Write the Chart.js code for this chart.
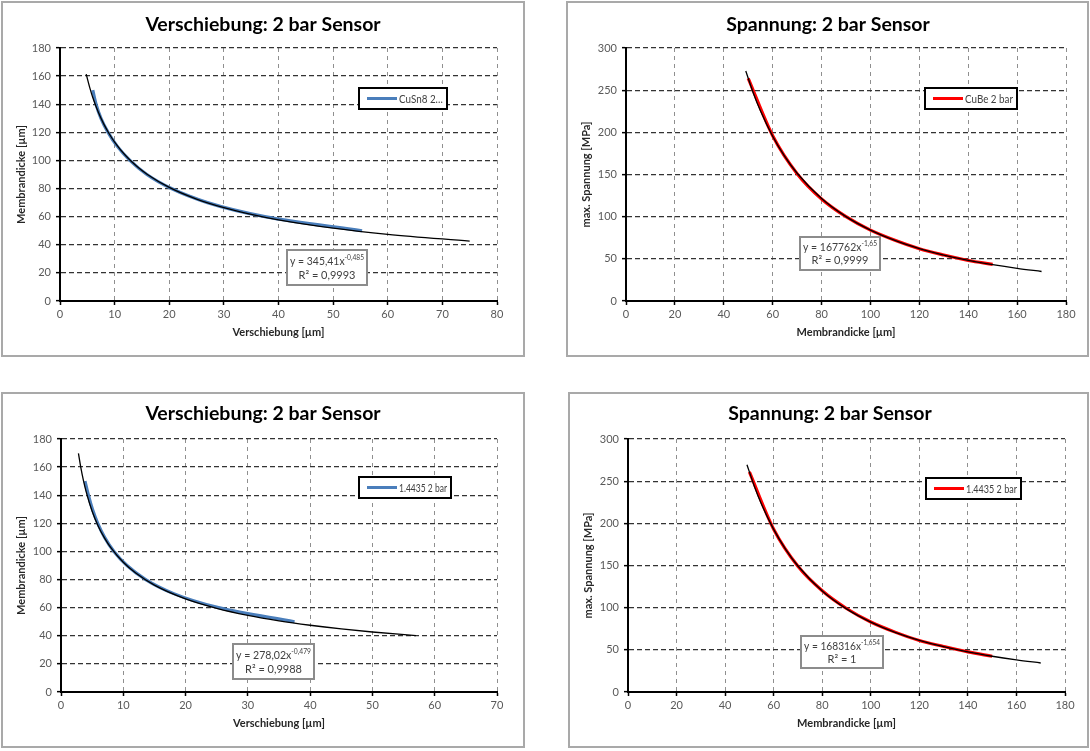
<!DOCTYPE html>
<html>
<head>
<meta charset="utf-8">
<script src="https://cdn.jsdelivr.net/npm/chart.js@4.4.1/dist/chart.umd.min.js"></script>
<style>
  html, body { margin: 0; padding: 0; background: #fff; width: 1090px; height: 751px; overflow: hidden; }
  .panel { position: absolute; box-sizing: border-box; border: 2px solid #a9a9a9; background: #fff; }
  .panel canvas { position: absolute; left: 0; top: 0; }
</style>
</head>
<body>
<div class="panel" style="left:1px;top:1px;width:524px;height:356px"><canvas id="c1" width="520" height="352"></canvas></div>
<div class="panel" style="left:566px;top:1px;width:523px;height:356px"><canvas id="c2" width="519" height="352"></canvas></div>
<div class="panel" style="left:1px;top:392px;width:524px;height:356px"><canvas id="c3" width="520" height="352"></canvas></div>
<div class="panel" style="left:568px;top:392px;width:521px;height:356px"><canvas id="c4" width="517" height="352"></canvas></div>
<script>
// ---- CuSn8, 2 bar: Membrandicke over Verschiebung ----
const cusnDisp   = [6.0, 6.6, 7.5, 8.8, 10.5, 12.8, 15.9, 20.4, 27.0, 37.5, 55.3];
const cusnThick  = [150, 140, 130, 120, 110, 100, 90, 80, 70, 60, 50];
const cusnFitX   = [4.8, 5.5, 6, 7, 8, 9, 10, 12, 14, 16, 20, 25, 30, 35, 40, 50, 60, 75];
const cusnFitY   = [161.4, 151.1, 144.8, 134.4, 126.0, 119.0, 113.1, 103.5, 96.0, 90.0, 80.8, 72.5, 66.4, 61.6, 57.7, 51.8, 47.4, 42.6];

// ---- CuBe, 2 bar: max. Spannung over Membrandicke ----
const cubeThick  = [50, 60, 70, 80, 90, 100, 110, 120, 130, 140, 150];
const cubeStress = [264, 196, 151, 121, 100, 84, 72, 62, 54.5, 48, 43.5];
const cubeFitX   = [49, 52, 55, 60, 65, 70, 80, 90, 100, 110, 120, 130, 140, 150, 160, 170];
const cubeFitY   = [272.8, 247.3, 225.5, 195.4, 171.2, 151.5, 121.5, 100.0, 84.1, 71.8, 62.2, 54.5, 48.3, 43.1, 38.7, 35.0];

// ---- 1.4435, 2 bar: Membrandicke over Verschiebung ----
const steelDisp  = [3.85, 4.4, 5.05, 5.9, 7.0, 8.5, 10.6, 13.6, 18.1, 25.3, 37.5];
const steelThick = [150, 140, 130, 120, 110, 100, 90, 80, 70, 60, 50];
const steelFitX  = [2.8, 3.2, 3.6, 4, 5, 6, 7, 8, 10, 12, 15, 20, 25, 30, 35, 40, 45, 50, 57];
const steelFitY  = [169.8, 159.3, 150.5, 143.1, 128.6, 117.8, 109.5, 102.7, 92.3, 84.6, 76.0, 66.2, 59.5, 54.5, 50.6, 47.5, 44.9, 42.7, 40.1];

// ---- 1.4435, 2 bar: max. Spannung over Membrandicke ----
const steelThick2  = [50, 60, 70, 80, 90, 100, 110, 120, 130, 140, 150];
const steelStress  = [261, 193, 149, 120, 99, 83, 71, 61, 54, 47.5, 42.4];
const steelFit2X   = [49, 52, 55, 60, 65, 70, 80, 90, 100, 110, 120, 130, 140, 150, 160, 170];
const steelFit2Y   = [269.5, 244.3, 222.6, 192.8, 168.9, 149.4, 119.8, 98.6, 82.9, 70.7, 61.3, 53.7, 47.5, 42.4, 38.1, 34.4];

// axis tick settings
const dispTicksA  = { min: 0, max: 80,  step: 10 };
const dispTicksB  = { min: 0, max: 70,  step: 10 };
const thickTicks  = { min: 0, max: 180, step: 20 };
const stressTicks = { min: 0, max: 300, step: 50 };

const FONT = 'Lato, "Open Sans", sans-serif';

function pts(xs, ys) { return xs.map((x, i) => ({ x: x, y: ys[i] })); }

// draw text squeezed horizontally so that it never exceeds maxW
function fitText(ctx, txt, x, y, maxW, align) {
  const w = ctx.measureText(txt).width;
  const k = Math.min(1, maxW / w);
  ctx.save();
  ctx.translate(x, y);
  ctx.scale(k, 1);
  ctx.textAlign = align;
  ctx.fillText(txt, 0, 0);
  ctx.restore();
  return w * k;
}

// titles, legend box and trendline label drawn on top of the plot
const decor = {
  id: 'decor',
  afterDatasetsDraw(chart, args, o) {
    const ctx = chart.ctx;
    ctx.save();
    ctx.textBaseline = 'middle';

    ctx.font = 'bold 19.5px ' + FONT;
    ctx.fillStyle = '#000';
    ctx.textAlign = 'center';
    ctx.fillText(o.title, o.titleX, o.titleY);

    const L = o.legend;
    ctx.fillStyle = '#fff';
    ctx.fillRect(L.x, L.y, L.w, L.h);
    ctx.lineWidth = 2;
    ctx.strokeStyle = '#000';
    ctx.strokeRect(L.x, L.y, L.w, L.h);
    ctx.strokeStyle = L.color;
    ctx.lineWidth = 3;
    ctx.beginPath();
    ctx.moveTo(L.x + 8, L.y + L.h / 2);
    ctx.lineTo(L.x + 38, L.y + L.h / 2);
    ctx.stroke();
    ctx.font = '11px ' + FONT;
    ctx.fillStyle = '#404040';
    fitText(ctx, L.label, L.x + 40, L.y + L.h / 2 + 0.5, L.w - 44, 'left');

    const E = o.eq;
    ctx.fillStyle = '#fff';
    ctx.fillRect(E.x, E.y, E.w, E.h);
    ctx.lineWidth = 2;
    ctx.strokeStyle = '#8c8c8c';
    ctx.strokeRect(E.x, E.y, E.w, E.h);
    const cx = E.x + E.w / 2;
    const base = 'y = ' + E.coef + 'x';
    ctx.font = '11px ' + FONT;
    const wBase = ctx.measureText(base).width;
    ctx.font = '7px ' + FONT;
    const wExp = ctx.measureText(E.exp).width;
    const k = Math.min(1, (E.w - 6) / (wBase + wExp));
    const l1 = E.y + E.h * 0.33;
    const l2 = E.y + E.h * 0.72;
    ctx.fillStyle = '#404040';
    ctx.save();
    ctx.translate(cx - (wBase + wExp) * k / 2, l1);
    ctx.scale(k, 1);
    ctx.textAlign = 'left';
    ctx.font = '11px ' + FONT;
    ctx.fillText(base, 0, 0);
    ctx.font = '7px ' + FONT;
    ctx.fillText(E.exp, wBase, -4);
    ctx.restore();
    ctx.font = '11px ' + FONT;
    fitText(ctx, 'R² = ' + E.r2, cx, l2, E.w - 6, 'center');
    ctx.restore();
  }
};

function makeChart(id, cfg) {
  const c = document.getElementById(id);
  const W = c.width, H = c.height;
  const a = cfg.area; // chart area inside the canvas: left, top, right, bottom
  const tickStyle = { tickColor: '#000', tickBorderDash: [], tickWidth: 1.5, tickLength: 4 };
  return new Chart(c, {
    type: 'scatter',
    data: {
      datasets: [
        {
          label: 'Trend',
          data: cfg.fit,
          showLine: true,
          borderColor: '#000',
          borderWidth: 1.3,
          pointRadius: 0,
          cubicInterpolationMode: 'monotone',
          order: 0
        },
        {
          label: cfg.legend.label,
          data: cfg.series,
          showLine: true,
          borderColor: cfg.legend.color,
          borderWidth: 3.2,
          pointRadius: 0,
          cubicInterpolationMode: 'monotone',
          order: 1
        }
      ]
    },
    options: {
      responsive: false,
      animation: false,
      events: [],
      layout: { padding: { left: 0, bottom: 0, top: a[1], right: W - a[2] } },
      plugins: {
        legend: { display: false },
        tooltip: { enabled: false },
        decor: { title: cfg.title, titleX: cfg.titleX, titleY: cfg.titleY, legend: cfg.legend, eq: cfg.eq }
      },
      scales: {
        x: {
          type: 'linear',
          min: cfg.xt.min, max: cfg.xt.max,
          ticks: { stepSize: cfg.xt.step, color: '#595959', font: { family: FONT, size: 11 }, padding: 3, maxRotation: 0 },
          grid: Object.assign({ color: '#8f8f8f', lineWidth: 1 }, tickStyle),
          border: { color: '#000', width: 2, dash: [4, 4] },
          title: { display: true, text: cfg.xTitle, color: '#262626', font: { family: FONT, size: 11, weight: 'bold' }, padding: { top: 0, bottom: cfg.xTitlePad } },
          afterFit(s) { s.height = H - a[3]; }
        },
        y: {
          type: 'linear',
          min: cfg.yt.min, max: cfg.yt.max,
          ticks: { stepSize: cfg.yt.step, color: '#595959', font: { family: FONT, size: 11 }, padding: 5 },
          grid: Object.assign({ color: '#333', lineWidth: 1.3 }, tickStyle),
          border: { color: '#000', width: 2, dash: [5, 3] },
          title: { display: true, text: cfg.yTitle, color: '#262626', font: { family: FONT, size: 11, weight: 'bold' }, padding: { top: cfg.yTitlePad, bottom: 0 } },
          afterFit(s) { s.width = a[0]; }
        }
      }
    },
    plugins: [decor]
  });
}

makeChart('c1', {
  area: [57, 45, 494, 298],
  title: 'Verschiebung: 2 bar Sensor', titleX: 260, titleY: 22,
  xTitle: 'Verschiebung [µm]', yTitle: 'Membrandicke [µm]', xTitlePad: 16, yTitlePad: 12,
  xt: dispTicksA, yt: thickTicks,
  series: pts(cusnDisp, cusnThick), fit: pts(cusnFitX, cusnFitY),
  legend: { label: 'CuSn8 2…', color: '#4a7ebb', x: 356, y: 85, w: 88, h: 21 },
  eq: { coef: '345,41', exp: '-0,485', r2: '0,9993', x: 284, y: 247, w: 80, h: 35 }
});

makeChart('c2', {
  area: [58, 45, 498, 298],
  title: 'Spannung: 2 bar Sensor', titleX: 260, titleY: 22,
  xTitle: 'Membrandicke [µm]', yTitle: 'max. Spannung [MPa]', xTitlePad: 16, yTitlePad: 12,
  xt: thickTicks, yt: stressTicks,
  series: pts(cubeThick, cubeStress), fit: pts(cubeFitX, cubeFitY),
  legend: { label: 'CuBe 2 bar', color: '#ff0000', x: 357, y: 85, w: 92, h: 21 },
  eq: { coef: '167762', exp: '-1,65', r2: '0,9999', x: 232, y: 234, w: 80, h: 33 }
});

makeChart('c3', {
  area: [58, 45, 494, 298],
  title: 'Verschiebung: 2 bar Sensor', titleX: 260, titleY: 20,
  xTitle: 'Verschiebung [µm]', yTitle: 'Membrandicke [µm]', xTitlePad: 16, yTitlePad: 12,
  xt: dispTicksB, yt: thickTicks,
  series: pts(steelDisp, steelThick), fit: pts(steelFitX, steelFitY),
  legend: { label: '1.4435 2 bar', color: '#4a7ebb', x: 356, y: 83, w: 92, h: 21 },
  eq: { coef: '278,02', exp: '-0,479', r2: '0,9988', x: 230, y: 250, w: 81, h: 35 }
});

makeChart('c4', {
  area: [58, 45, 495, 298],
  title: 'Spannung: 2 bar Sensor', titleX: 260, titleY: 20,
  xTitle: 'Membrandicke [µm]', yTitle: 'max. Spannung [MPa]', xTitlePad: 16, yTitlePad: 12,
  xt: thickTicks, yt: stressTicks,
  series: pts(steelThick2, steelStress), fit: pts(steelFit2X, steelFit2Y),
  legend: { label: '1.4435 2 bar', color: '#ff0000', x: 356, y: 84, w: 95, h: 21 },
  eq: { coef: '168316', exp: '-1,654', r2: '1', x: 231, y: 242, w: 82, h: 32 }
});
</script>
</body>
</html>
